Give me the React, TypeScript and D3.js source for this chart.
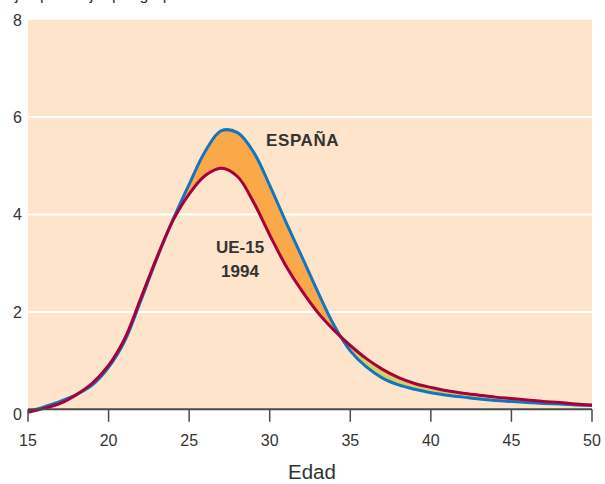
import React from "react";
import * as d3 from "d3";

const ages = [15,16,17,18,19,20,21,22,23,24,25,26,27,28,29,30,31,32,33,34,35,36,37,38,39,40,41,42,43,44,45,46,47,48,49,50];
const espana = [-0.05,0.05,0.16,0.3,0.5,0.86,1.4,2.23,3.1,3.9,4.62,5.3,5.72,5.68,5.28,4.6,3.85,3.13,2.4,1.72,1.2,0.87,0.64,0.5,0.41,0.34,0.29,0.25,0.21,0.18,0.16,0.14,0.12,0.11,0.09,0.08];
const ue15 = [-0.06,0.02,0.12,0.3,0.54,0.9,1.45,2.28,3.12,3.88,4.42,4.8,4.95,4.78,4.25,3.58,2.95,2.43,1.98,1.62,1.31,1.04,0.82,0.65,0.53,0.45,0.38,0.33,0.29,0.25,0.22,0.19,0.16,0.14,0.11,0.09];
const xTicks = [15,20,25,30,35,40,45,50];
const yTicks = [0,2,4,6,8];
const xLabel = "Edad";
const topLabel = "Hijos por mujer por grupo de edad";
const labelEspana = "ESPAÑA";
const labelUE = ["UE-15", "1994"];

export default function App() {
  const W = 605, H = 484;
  const x = d3.scaleLinear().domain([15, 50]).range([28, 592]);
  const y = d3.scaleLinear().domain([0, 8]).range([409.3, 19.7]);
  const bgTop = y(8);
  const bgBottom = y(0);
  const blue = ages.map((a, i) => [a, espana[i]] as [number, number]);
  const red = ages.map((a, i) => [a, ue15[i]] as [number, number]);
  const curve = d3.curveCatmullRom.alpha(0.5);
  const line = d3.line<[number, number]>().x(d => x(d[0])).y(d => y(d[1])).curve(curve);
  const areaBelow = d3.area<[number, number]>().x(d => x(d[0])).y0(H).y1(d => y(d[1])).curve(curve);
  const areaAbove = d3.area<[number, number]>().x(d => x(d[0])).y0(-10).y1(d => y(d[1])).curve(curve);
  const font = "'Liberation Sans', Arial, sans-serif";
  return (
    <svg width={W} height={H} style={{ position: "absolute", left: 0, top: 0, background: "#fff" }}>
      <defs>
        <clipPath id="aboveRed"><path d={areaAbove(red) || ""} /></clipPath>
        <clipPath id="aboveBlue"><path d={areaAbove(blue) || ""} /></clipPath>
        <clipPath id="plot"><rect x={x(15)} y={bgTop} width={x(50) - x(15)} height={bgBottom - bgTop + 6} /></clipPath>
      </defs>
      <text x={0} y={0} fontFamily={font} fontSize={16} fill="#333">{topLabel}</text>
      <rect x={x(15)} y={bgTop} width={x(50) - x(15)} height={bgBottom - bgTop} fill="#FDE4CA" />
      {yTicks.filter(t => t > 0 && t < 8).map(t => (
        <line key={t} x1={x(15)} x2={x(50)} y1={y(t)} y2={y(t)} stroke="#fff" strokeWidth={2} />
      ))}
      <g clipPath="url(#plot)">
        <path d={areaBelow(blue) || ""} fill="#F9A84A" clipPath="url(#aboveRed)" />
        <path d={areaBelow(red) || ""} fill="#D6CE66" clipPath="url(#aboveBlue)" />
        <path d={line(blue) || ""} fill="none" stroke="#1276BE" strokeWidth={3} />
        <path d={line(red) || ""} fill="none" stroke="#A8003A" strokeWidth={3} />
      </g>
      <line x1={x(15)} x2={x(50)} y1={bgBottom} y2={bgBottom} stroke="#4a4a4a" strokeWidth={2} />
      {xTicks.map(t => (
        <g key={t}>
          <line x1={x(t)} x2={x(t)} y1={bgBottom} y2={bgBottom + 12.5} stroke="#4a4a4a" strokeWidth={1.5} />
          <text x={x(t)} y={446} textAnchor="middle" fontFamily={font} fontSize={16} fill="#333">{t}</text>
        </g>
      ))}
      {yTicks.map(t => (
        <text key={t} x={22} y={y(t) + (t === 0 ? 5 : 0) + 5.8} textAnchor="end" fontFamily={font} fontSize={16} fill="#333">{t}</text>
      ))}
      <text x={312} y={479} textAnchor="middle" fontFamily={font} fontSize={20.5} fill="#333">{xLabel}</text>
      <text x={266} y={146} fontFamily={font} fontSize={17} fontWeight="bold" fill="#333" letterSpacing={0.6}>{labelEspana}</text>
      <text x={240} y={253} textAnchor="middle" fontFamily={font} fontSize={17} fontWeight="bold" fill="#333">{labelUE[0]}</text>
      <text x={240} y={276.5} textAnchor="middle" fontFamily={font} fontSize={17} fontWeight="bold" fill="#333">{labelUE[1]}</text>
    </svg>
  );
}
